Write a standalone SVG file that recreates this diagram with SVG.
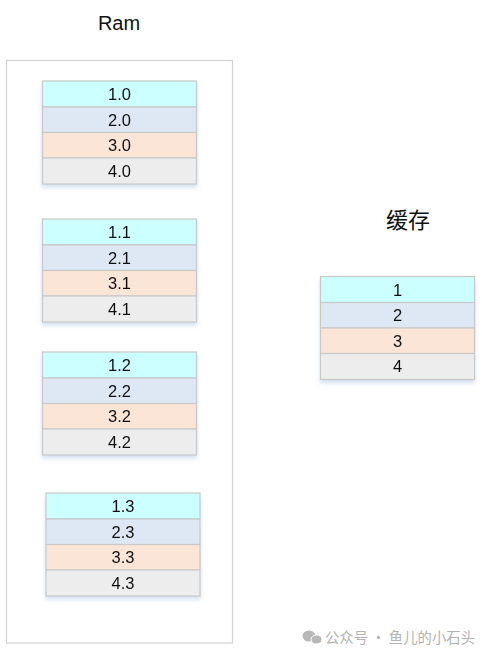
<svg xmlns="http://www.w3.org/2000/svg" width="482" height="655" viewBox="0 0 482 655">
<style>
.r1{fill:#ccffff;stroke:#c9c9c9;stroke-width:1.2}
.r2{fill:#dee8f4;stroke:#c9c9c9;stroke-width:1.2}
.r3{fill:#fbe5d6;stroke:#c9c9c9;stroke-width:1.2}
.r4{fill:#ededed;stroke:#c9c9c9;stroke-width:1.2}
.t{font-family:"Liberation Sans","Open Sans",sans-serif;font-size:16.5px;fill:#111;text-anchor:middle}
.title{font-family:"Liberation Sans","Noto Sans CJK SC",sans-serif;font-size:20px;fill:#111;text-anchor:middle}
.ctitle{font-family:"Noto Sans CJK SC",sans-serif;font-size:22px;fill:#111;text-anchor:middle}
.wm{font-family:"Noto Sans CJK SC",sans-serif;font-size:15px;fill:#b3b3b3}
</style>
<defs>
<filter id="sh" x="-10%" y="-10%" width="120%" height="130%">
<feDropShadow dx="0" dy="3" stdDeviation="2" flood-color="#b7cdea" flood-opacity="0.6"/>
</filter>
</defs>
<rect width="482" height="655" fill="#ffffff"/>
<g id="ram">
<rect x="6.5" y="60.5" width="226" height="582.5" fill="#ffffff" stroke="#d2d2d2" stroke-width="1.2"/>
<text class="title" x="119" y="30">Ram</text>
</g>
<g id="block0" filter="url(#sh)">
<rect class="r1" x="42.5" y="81" width="154" height="26"/>
<rect class="r2" x="42.5" y="107" width="154" height="25.5"/>
<rect class="r3" x="42.5" y="132.5" width="154" height="25.5"/>
<rect class="r4" x="42.5" y="158" width="154" height="26"/>
<text class="t" x="119.5" y="100">1.0</text>
<text class="t" x="119.5" y="125.5">2.0</text>
<text class="t" x="119.5" y="151">3.0</text>
<text class="t" x="119.5" y="176.5">4.0</text>
</g>
<g id="block1" filter="url(#sh)">
<rect class="r1" x="42.5" y="219" width="154" height="26"/>
<rect class="r2" x="42.5" y="245" width="154" height="25.5"/>
<rect class="r3" x="42.5" y="270.5" width="154" height="25.5"/>
<rect class="r4" x="42.5" y="296" width="154" height="26"/>
<text class="t" x="119.5" y="238">1.1</text>
<text class="t" x="119.5" y="263.5">2.1</text>
<text class="t" x="119.5" y="289">3.1</text>
<text class="t" x="119.5" y="314.5">4.1</text>
</g>
<g id="block2" filter="url(#sh)">
<rect class="r1" x="42.5" y="352" width="154" height="26"/>
<rect class="r2" x="42.5" y="378" width="154" height="25.5"/>
<rect class="r3" x="42.5" y="403.5" width="154" height="25.5"/>
<rect class="r4" x="42.5" y="429" width="154" height="26"/>
<text class="t" x="119.5" y="371">1.2</text>
<text class="t" x="119.5" y="396.5">2.2</text>
<text class="t" x="119.5" y="422">3.2</text>
<text class="t" x="119.5" y="447.5">4.2</text>
</g>
<g id="block3" filter="url(#sh)">
<rect class="r1" x="46" y="493" width="154" height="26"/>
<rect class="r2" x="46" y="519" width="154" height="25.5"/>
<rect class="r3" x="46" y="544.5" width="154" height="25.5"/>
<rect class="r4" x="46" y="570" width="154" height="26"/>
<text class="t" x="123" y="512">1.3</text>
<text class="t" x="123" y="537.5">2.3</text>
<text class="t" x="123" y="563">3.3</text>
<text class="t" x="123" y="588.5">4.3</text>
</g>
<g id="cache">
<text class="ctitle" x="408" y="228">缓存</text>
<g filter="url(#sh)">
<rect class="r1" x="320.5" y="276.5" width="154" height="26"/>
<rect class="r2" x="320.5" y="302.5" width="154" height="25.5"/>
<rect class="r3" x="320.5" y="328" width="154" height="25.5"/>
<rect class="r4" x="320.5" y="353.5" width="154" height="26"/>
<text class="t" x="397.5" y="295.5">1</text>
<text class="t" x="397.5" y="321">2</text>
<text class="t" x="397.5" y="346.5">3</text>
<text class="t" x="397.5" y="372">4</text>
</g>
</g>
<g id="watermark">
<ellipse cx="309" cy="636" rx="6.5" ry="5.5" fill="#b8b8b8"/>
<ellipse cx="316.5" cy="639.5" rx="5.5" ry="4.5" fill="#b8b8b8" stroke="#ffffff" stroke-width="1"/>
<text class="wm" x="325" y="642.5" textLength="150" lengthAdjust="spacingAndGlyphs">公众号 · 鱼儿的小石头</text>
</g>
</svg>
